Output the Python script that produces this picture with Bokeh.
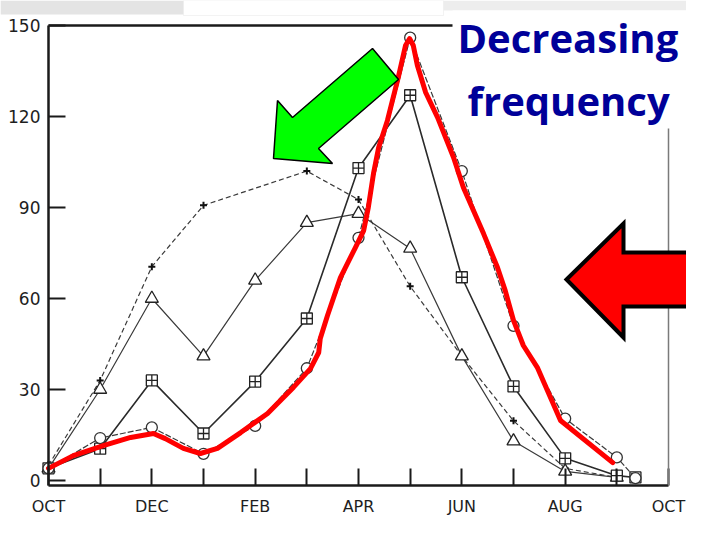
from bokeh.plotting import figure
from bokeh.models import Range1d, FixedTicker, LinearAxis, PolyAnnotation, Label
from bokeh.embed import file_html
from bokeh.resources import INLINE

# ---------------- data ----------------
months = ["OCT", "NOV", "DEC", "JAN", "FEB", "MAR", "APR", "MAY",
          "JUN", "JUL", "AUG", "SEP", "OCT"]
month_pos = list(range(13))
y_ticks = [0, 30, 60, 90, 120, 150]

plus_x = [0, 1, 2, 3, 5, 6, 7, 8, 9, 10, 11]
plus_y = [5, 33, 70.5, 90.7, 102, 92.6, 64, 41, 19.7, 4, 1]

tri_x = [0, 1, 2, 3, 4, 5, 6, 7, 8, 9, 10, 11]
tri_y = [4, 30, 60, 41, 66, 85, 88, 76.5, 41, 13, 3, 1]

sq_x = [0, 1, 2, 3, 4, 5, 6, 7, 8, 9, 10, 11, 11.36]
sq_y = [4, 10.5, 33, 15.5, 32.6, 53.4, 103, 127, 67, 31, 7.3, 1.6, 1]

circ_x = [0, 1, 2, 3, 4, 5, 6, 7, 8, 9, 10, 11, 11.36]
circ_y = [4, 14, 17.5, 8.8, 18, 37, 80, 146, 102, 51, 20.4, 7.6, 0.8]

# hand-drawn red trace
red_x = [0.0, 0.48, 1.06, 1.59, 2.03, 2.26, 2.61, 2.94, 3.27, 3.72, 4.24,
         4.74, 5.07, 5.23, 5.26, 5.40, 5.65, 5.94, 6.10, 6.19, 6.29, 6.39,
         6.56, 6.77, 6.91, 6.99, 7.06, 7.14, 7.30, 7.53, 7.84, 8.03, 8.42,
         8.69, 8.84, 9.00, 9.19, 9.46, 9.91, 10.92]
red_y = [4.0, 8.2, 11.5, 14.2, 15.5, 13.8, 10.6, 8.9, 10.6, 15.8, 22.1,
         30.7, 36.9, 42.2, 46.8, 54.4, 66.9, 76.8, 82.4, 90.0, 101.2, 109.8,
         118.7, 132.9, 143.4, 145.7, 143.4, 136.8, 127.9, 119.7, 106.5, 96.6,
         81.4, 70.2, 62.6, 52.8, 44.5, 37.3, 19.8, 5.9]

title_lines = ["Decreasing", "frequency"]

# ---------------- layout constants (canvas pixels) ----------------
W, H = 686, 517
FL, FR, FT, FB = 48, 668, 25, 485          # chart box in pixels
X0, X1, Y0, Y1 = 0, 12, -1.65, 150          # data values at the box edges


def px2x(px):
    return X0 + (px - FL) / (FR - FL) * (X1 - X0)


def py2y(py):
    return Y0 + (FB - py) / (FB - FT) * (Y1 - Y0)


def poly(points, **kw):
    return PolyAnnotation(xs=[px2x(a) for a, b in points],
                          ys=[py2y(b) for a, b in points], **kw)


p = figure(width=W, height=H,
           x_range=Range1d(px2x(0), px2x(W)),
           y_range=Range1d(py2y(H), py2y(0)),
           output_backend="svg", toolbar_location=None,
           min_border=0, x_axis_type=None, y_axis_type=None)
p.grid.visible = False
p.outline_line_color = None
p.background_fill_color = "white"
p.border_fill_color = "white"

AX = "#1a1a1a"
FONT = "DejaVu Sans"
LBL = "#1e1e1e"

xa = LinearAxis(fixed_location=Y0, bounds=(X0, X1),
                ticker=FixedTicker(ticks=month_pos),
                major_label_overrides={i: (months[i] if i % 2 == 0 else "")
                                       for i in month_pos},
                major_tick_in=17, major_tick_out=0,
                minor_tick_line_color=None,
                axis_line_width=2.5, axis_line_color=AX,
                major_tick_line_width=2, major_tick_line_color=AX,
                major_label_standoff=11, major_label_text_font=FONT,
                major_label_text_font_size="16px",
                major_label_text_color=LBL)
p.add_layout(xa, "below")

ya = LinearAxis(fixed_location=X0, bounds=(Y0, Y1),
                ticker=FixedTicker(ticks=y_ticks),
                major_tick_in=17, major_tick_out=0,
                minor_tick_line_color=None,
                axis_line_width=2.5, axis_line_color=AX,
                major_tick_line_width=2, major_tick_line_color=AX,
                major_label_standoff=8, major_label_text_font=FONT,
                major_label_text_font_size="17px",
                major_label_text_color=LBL)
p.add_layout(ya, "left")

top = LinearAxis(fixed_location=Y1, bounds=(X0, X1),
                 ticker=FixedTicker(ticks=[]),
                 major_tick_in=0, major_tick_out=0,
                 minor_tick_line_color=None,
                 major_label_text_font_size="0px",
                 axis_line_width=2.5, axis_line_color=AX)
p.add_layout(top, "above")

right = LinearAxis(fixed_location=X1, bounds=(Y0, Y1),
                   ticker=FixedTicker(ticks=[]),
                   major_tick_in=0, major_tick_out=0,
                   minor_tick_line_color=None,
                   major_label_text_font_size="0px",
                   axis_line_width=1.5, axis_line_color="#7a7a7a")
p.add_layout(right, "right")

INK = "#3a3a3a"
# series curves
p.line(plus_x, plus_y, line_color=INK, line_width=1.2, line_dash="5 3")
p.scatter(plus_x, plus_y, marker="cross", size=7, line_color="#111111", line_width=2)

p.line(tri_x, tri_y, line_color=INK, line_width=1.2)
p.scatter(tri_x, tri_y, marker="triangle", size=13, fill_color="white",
          line_color="#222222", line_width=1.3)

p.line(sq_x, sq_y, line_color="#2a2a2a", line_width=1.6)
p.scatter(sq_x, sq_y, marker="square_cross", size=11, fill_color="white",
          line_color="#222222", line_width=1.3)

p.line(circ_x, circ_y, line_color=INK, line_width=1.2, line_dash="6 2")
p.scatter(circ_x, circ_y, marker="circle", size=11, fill_color="white",
          line_color="#333333", line_width=1.3)

p.line(red_x, red_y, line_color="#ff0000", line_width=5,
       line_join="round", line_cap="round")

# ---------------- decorations ----------------
p.add_layout(poly([(0, 0), (183, 0), (183, 14), (0, 14)],
                  fill_color="#e4e4e4", fill_alpha=1, line_color=None))
p.add_layout(poly([(183, 0), (443, 0), (443, 15), (183, 15)],
                  fill_color="white", fill_alpha=1, line_color="#d6d6d6",
                  line_width=1))
p.add_layout(poly([(443, 0), (702, 0), (702, 10), (443, 10)],
                  fill_color="#ededed", fill_alpha=1, line_color=None))
p.add_layout(poly([(452, 10), (702, 10), (702, 128), (452, 128)],
                  fill_color="white", fill_alpha=1, line_color=None))

p.add_layout(poly([(273, 158), (277, 100), (292, 117), (372, 48), (398, 79),
                   (318, 148), (332, 163)],
                  fill_color="#00ff00", fill_alpha=1, line_color="black",
                  line_width=1.5, line_alpha=1))
p.add_layout(poly([(566, 279), (623, 223), (623, 252), (720, 252), (720, 306),
                   (623, 306), (623, 337)],
                  fill_color="#ff0000", fill_alpha=1, line_color="black",
                  line_width=4, line_alpha=1, line_join="miter"))

for txt, bx, by in [(title_lines[0], 457, 37), (title_lines[1], 467, 100)]:
    p.add_layout(Label(x=px2x(bx), y=py2y(by), text=txt,
                       text_font="Open Sans", text_font_style="bold",
                       text_font_size="40px", text_color="#000099",
                       text_baseline="alphabetic", text_align="left"))

open("out.html", "w").write(file_html(p, INLINE))
